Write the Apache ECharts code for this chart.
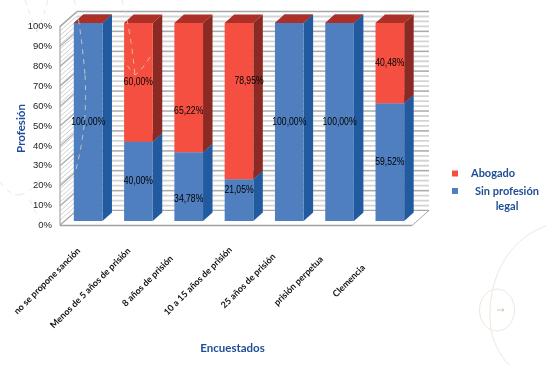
<!DOCTYPE html>
<html><head><meta charset="utf-8">
<style>html,body{margin:0;padding:0;background:#fff}#c{width:549px;height:365px;filter:blur(0.5px)}</style>
<script src="https://cdn.jsdelivr.net/npm/echarts@6/dist/echarts.min.js"></script>
</head><body><div id="c"></div>
<script>
const categories = ['no se propone sanción','Menos de 5 años de prisión','8 años de prisión','10 a 15 años de prisión','25 años de prisión','prisión perpetua','Clemencia'];
const sinProfesion = [100,40,34.78,21.05,100,100,59.52];
const abogado = [0,60,65.22,78.95,0,0,40.48];
const yTicks = [0,10,20,30,40,50,60,70,80,90,100];
// label nudges away from the segment centre
const blueLabelShift = [[0,0],[0,0],[0,13],[0,-10],[0,0],[0,0],[0,0]];
const redLabelShift = [[0,0],[0,0],[0,24],[10,-20],[0,0],[0,0],[0,0]];

const NAVY='#1F4E96', ARIAL='"Liberation Sans",Arial,sans-serif', HUM='Lato,"Open Sans",sans-serif';
const DX=9.5, DY=-8.5;
const fmt=v=>v.toFixed(2).replace('.',',')+'%';

function barRenderer(front,side,top,shifts){
  return function(params,api){
    const i=api.value(0), a=api.coord([i,api.value(1)]), b=api.coord([i,api.value(2)]);
    const w=api.size([1,0])[0]*0.57, x=a[0]-w/2, x2=x+w, y0=a[1], y1=b[1];
    const kids=[
      {type:'polygon',shape:{points:[[x2,y0],[x2+DX,y0+DY],[x2+DX,y1+DY],[x2,y1]]},style:{fill:side}},
      {type:'polygon',shape:{points:[[x,y1],[x+DX,y1+DY],[x2+DX,y1+DY],[x2,y1]]},style:{fill:top}},
      {type:'rect',shape:{x:x,y:y1,width:w,height:y0-y1},style:{fill:front}}
    ];
    const v=api.value(2)-api.value(1);
    if(v>0){
      const s=shifts[i];
      kids.push({type:'text',z2:50,x:(x+x2)/2+s[0],y:(y0+y1)/2+s[1],scaleX:0.82,style:{text:fmt(v),fill:'#000',font:'10.5px '+ARIAL,align:'center',verticalAlign:'middle'}});
    }
    return {type:'group',children:kids};
  };
}
function wallRenderer(params,api){
  const k=[], L=17, U=-15;
  const o=api.coord([0,0]), t=api.coord([0,100]);
  const x0=params.coordSys.x, x1=x0+params.coordSys.width, yB=o[1], yT=t[1];
  k.push({type:'rect',shape:{x:x0+L,y:yT+U,width:x1-x0,height:yB-yT},style:{fill:'#fff'}});
  // back wall stripes
  for(let y=yT+U;y<=yB+U+.1;y+=4.975){k.push({type:'line',shape:{x1:x0+L,y1:y,x2:x1+L,y2:y},style:{stroke:'#d4d4d4',lineWidth:1.8}});}
  // left wall hatch
  for(let d=0;d<=yB-yT+14;d+=4.5){
    const ya=Math.min(yT+d,yB), xa=x0+(yT+d>yB?(yT+d-yB)*0.8:0);
    const yb=Math.min(yT+d+U, yB+U), xb=x0+L;
    k.push({type:'line',shape:{x1:xa,y1:ya,x2:xb,y2:Math.max(yb,yT+U)},style:{stroke:'#c4c4c4',lineWidth:.8}});
  }
  // gridlines
  yTicks.forEach(v=>{const p=api.coord([0,v]);
    k.push({type:'polyline',shape:{points:[[x0,p[1]],[x0+L,p[1]+U],[x1+L,p[1]+U]]},style:{stroke:'#ababab',lineWidth:1.2,fill:null}});});
  // floor and edges
  k.push({type:'polygon',shape:{points:[[x0,yB],[x0+L,yB+U],[x1+L,yB+U],[x1,yB]]},style:{fill:'#fff',stroke:'#a6a6a6',lineWidth:1}});
  k.push({type:'polyline',shape:{points:[[x0,yB],[x0,yT],[x0+L,yT+U],[x1+L,yT+U]]},style:{stroke:'#a6a6a6',lineWidth:1.2,fill:null}});
  k.push({type:'line',shape:{x1:x0,y1:yB,x2:x1,y2:yB},style:{stroke:'#a0a0a0',lineWidth:1.5}});
  return {type:'group',silent:true,children:k};
}
const deco='#eddccb';
const bez=(a,stroke,dash,z,op)=>({type:'bezierCurve',silent:true,z:z,shape:{x1:a[0],y1:a[1],cpx1:a[2],cpy1:a[3],cpx2:a[4],cpy2:a[5],x2:a[6],y2:a[7]},style:{stroke,lineWidth:1,lineDash:dash,fill:null,opacity:op}});
const dashedCurves=[
 [25,0,30,15,34,25,37,32],[48,0,45,12,41,22,37,32],[74,0,78,12,82,40,85,75],[85,75,87,110,84,140,75,173],
 [122,0,128,20,132,45,135,75],[122,57,126,65,132,72,135,75],[150,57,145,65,140,72,135,75],
 [0,182,6,190,12,195,20,195],[20,195,30,192,38,185,42,175],[30,200,34,210,40,222,46,228]
];
const catRich={c:{color:'#111',fontFamily:HUM,fontWeight:'bold',fontSize:9},
               s:{color:'#111',fontFamily:HUM,fontWeight:'bold',fontSize:9,padding:[0,20,0,0]}};
const chart=echarts.init(document.getElementById('c'),null,{renderer:'canvas'});
chart.setOption({
  animation:false,
  backgroundColor:'#fff',
  grid:[
    {left:60,width:352,top:26.5,height:199},
    {left:63,width:352,top:23,height:198},
    {left:22,width:352,top:25,height:200}
  ],
  xAxis:[
    {gridIndex:0,type:'category',data:categories,axisLine:{show:false},axisTick:{show:false},axisLabel:{show:false},
     name:'Encuestados',nameLocation:'middle',nameGap:117,nameMoveOverlap:false,nameTextStyle:{color:NAVY,fontFamily:HUM,fontWeight:'bold',fontSize:11.5,padding:[0,7,0,0]}},
    {gridIndex:1,type:'category',data:categories,show:false},
    {gridIndex:2,type:'category',data:categories,axisLine:{show:false},axisTick:{show:false},
     axisLabel:{interval:0,rotate:45,align:'center',verticalAlign:'middle',margin:56,fontWeight:'bold',fontSize:9,
       formatter:(v,i)=>`{${i===1?'s':'c'}|${v}}`,rich:catRich}}
  ],
  yAxis:[
    {gridIndex:0,type:'value',min:0,max:100,interval:10,axisLine:{show:false},axisTick:{show:false},splitLine:{show:false},
     axisLabel:{formatter:'{value}%',margin:8,color:'#222',fontFamily:ARIAL,fontSize:9.5},
     name:'Profesión',nameLocation:'middle',nameGap:33,nameMoveOverlap:false,nameRotate:90,nameTextStyle:{color:NAVY,fontFamily:HUM,fontWeight:'bold',fontSize:11.5,padding:[0,5,0,0]}},
    {gridIndex:1,type:'value',min:0,max:100,interval:10,show:false},
    {gridIndex:2,type:'value',min:0,max:100,interval:10,show:false}
  ],
  legend:{orient:'vertical',left:447,top:163,itemWidth:6,itemHeight:6,itemGap:-9,icon:'rect',selectedMode:false,
    data:['Abogado','Sin profesión legal'],
    formatter:n=>n==='Abogado'?'{a|Abogado}':'{b| }\n{b|Sin profesión}\n{b|legal}',
    textStyle:{rich:{
      a:{color:NAVY,fontFamily:HUM,fontWeight:'bold',fontSize:11,width:72,align:'left',padding:[0,0,0,8]},
      b:{color:NAVY,fontFamily:HUM,fontWeight:'bold',fontSize:11,width:88,align:'center',lineHeight:15.5}
    }}},
  graphic:[
    ...dashedCurves.map(a=>bez(a,deco,[5,5],100,0.7)),
    {type:'ellipse',silent:true,z:-1,shape:{cx:497,cy:310,rx:17.5,ry:21},style:{stroke:'#f1e6dc',lineWidth:1,fill:null}},
    bez([546,226,505,240,485,285,491,330],'#f1e6dc',null,-1,1),
    bez([491,330,494,345,502,358,509,365],'#f1e6dc',null,-1,1),
    {type:'line',silent:true,z:-1,shape:{x1:497,y1:310,x2:504,y2:310},style:{stroke:'#dcc5ae',lineWidth:1}},
    {type:'polyline',silent:true,z:-1,shape:{points:[[502,308.5],[504,310],[502,311.5]]},style:{stroke:'#dcc5ae',lineWidth:1,fill:null}}
  ],
  series:[
    {type:'custom',name:'wall',xAxisIndex:0,yAxisIndex:0,data:[[0,0]],renderItem:wallRenderer,silent:true,z:1},
    {type:'custom',name:'Sin profesión legal',xAxisIndex:1,yAxisIndex:1,z:3,itemStyle:{color:'#4F7FBF'},
     encode:{x:0,y:[1,2]},data:sinProfesion.map((v,i)=>[i,0,v]),renderItem:barRenderer('#4F7FBF','#225AA0','#3B6BAF',blueLabelShift)},
    {type:'custom',name:'Abogado',xAxisIndex:1,yAxisIndex:1,z:4,itemStyle:{color:'#F44F40'},
     encode:{x:0,y:[1,2]},data:abogado.map((v,i)=>[i,sinProfesion[i],sinProfesion[i]+v]),renderItem:barRenderer('#F44F40','#8B2A24','#AD3028',redLabelShift)}
  ]
});
</script></body></html>
